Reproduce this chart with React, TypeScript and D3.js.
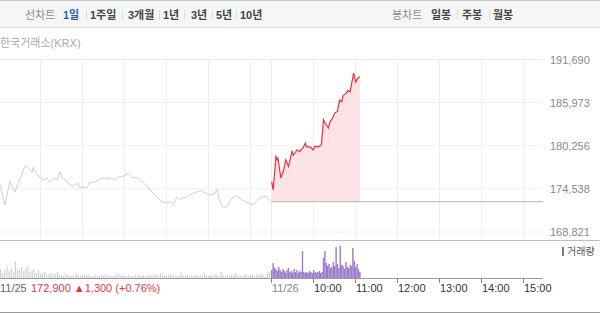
import React from "react";
import * as d3 from "d3";

const yTicks = [191690, 185973, 180256, 174538, 168821];
const prevClose = 172900;

const prevMinutes = [3, 10, 17, 24, 29, 34, 39, 43, 49, 50, 56, 60, 64, 70, 74, 79, 84, 89, 91, 96, 100, 106, 110, 114, 117, 121, 127, 131, 136, 141, 146, 150, 156, 160, 167, 171, 179, 186, 191, 199, 207, 214, 221, 229, 234, 241, 246, 250, 256, 260, 264, 271, 279, 289, 296, 303, 310, 313, 316, 321, 327, 331, 336, 341, 349, 356, 363, 367, 371, 377, 384, 389];
const prevPrices = [175100, 172400, 175600, 174100, 175300, 176400, 177700, 177300, 176800, 177400, 176400, 176100, 175700, 176000, 175400, 176000, 175700, 176800, 176100, 175700, 175300, 174800, 175100, 175300, 174700, 174800, 174700, 175300, 175400, 175600, 175800, 176000, 175800, 176000, 175700, 176100, 176200, 176600, 176100, 176000, 175400, 174800, 174000, 173300, 172800, 172700, 172800, 172400, 173500, 173100, 173300, 173500, 174000, 174300, 174000, 173700, 174000, 174500, 173100, 172100, 172100, 172800, 173500, 173600, 173100, 172700, 172400, 172700, 173100, 173500, 173500, 172900];

const todayMinutes = [391, 393, 396, 397, 399, 400, 404, 408, 411, 415, 420, 422, 427, 431, 436, 439, 441, 446, 450, 453, 458, 462, 465, 467, 472, 474, 478, 481, 485, 488, 491, 493, 497, 500, 503, 508, 511, 514, 517];
const todayPrices = [175500, 174400, 177500, 178800, 178400, 178600, 176000, 177000, 178400, 177500, 179500, 179000, 179700, 179500, 180000, 180600, 180100, 180100, 179700, 180200, 180100, 180400, 183700, 183300, 182600, 183400, 183900, 184600, 184800, 186300, 186100, 186900, 187200, 187600, 187400, 189900, 188700, 189200, 189400];

// volume, prev day every 3 minutes starting 9:00
const prevVolume = [
  6, 9, 5, 8, 12, 7,
  10, 6, 17, 9, 8, 11, 7,
  10, 12, 6, 8, 9, 5, 7,
  4, 5, 6, 3, 4, 5, 3, 4, 6, 3,
  3, 2, 4, 3, 2, 3, 2, 5, 3, 2, 3, 2, 3, 4, 2,
  2, 3, 2, 2, 3, 2, 4, 2, 3, 2, 2, 3, 5, 2, 3, 2, 2, 3, 2,
  2, 3, 2, 4, 2, 3, 2, 2, 3, 2, 4, 3, 2, 5, 3, 2, 2, 3, 4,
  3, 2, 2, 3, 5, 2, 3, 2, 2, 3, 2, 4, 2, 3, 2, 5, 3, 2, 3,
  2, 4, 3, 2, 6, 3, 2, 3, 2, 4, 3, 5, 2, 3, 2, 3, 4, 2, 3,
  3, 2, 4, 3, 5, 3, 2, 4, 6,
];
// today every 2 minutes starting 9:00
const todayVolume = [
  8, 15, 10, 9, 7, 11, 8,
  6, 9, 7, 5, 8, 10, 6, 7, 5, 9, 6, 8, 5, 7,
  6, 27, 6, 5,
  6, 5, 7, 6, 5, 8, 6, 5, 6, 7, 5, 6,
  20, 27, 15, 12, 14, 10, 11, 16, 12, 31, 14, 10,
  32, 13, 12, 9, 16, 11, 10, 13, 12, 30, 17, 11,
  14, 9, 6,
];

const timeTicks = [
  { m: 390, label: "11/26", dim: true },
  { m: 450, label: "10:00", dim: false },
  { m: 510, label: "11:00", dim: false },
  { m: 570, label: "12:00", dim: false },
  { m: 630, label: "13:00", dim: false },
  { m: 690, label: "14:00", dim: false },
  { m: 750, label: "15:00", dim: false },
];

const periodTabs = ["1일", "1주일", "3개월", "1년", "3년", "5년", "10년"];
const candleTabs = ["일봉", "주봉", "월봉"];

const FONT = "'Liberation Sans', 'Noto Sans CJK KR', sans-serif";

export default function App() {
  const W = 600;
  const H = 314;
  const x = d3.scaleLinear().domain([0, 780]).range([-2, 544]);
  const y = d3.scaleLinear().domain([168821, 191690]).range([232, 59.5]);
  const vy = d3.scaleLinear().domain([0, 35]).range([278, 243]);
  const plotRight = 543;

  const prevData = prevMinutes.map((m, i) => [m, prevPrices[i]] as [number, number]);
  const todayData = todayMinutes.map((m, i) => [m, todayPrices[i]] as [number, number]);
  const line = d3.line<[number, number]>().x((d) => x(d[0])).y((d) => y(d[1]));
  const area = d3
    .area<[number, number]>()
    .x((d) => x(d[0]))
    .y0(y(prevClose))
    .y1((d) => y(d[1]));
  const todayArea: [number, number][] = [[390, todayPrices[0]], ...todayData];

  const gridX = d3.range(60, 390, 60).concat(d3.range(390, 780, 60));

  const tabPos = [63, 90, 128, 163, 191, 216, 240];
  const sepPos = [86, 122, 159, 184, 212, 236];
  const candlePos = [431, 462, 493];
  const candleSep = [457, 489];

  return (
    <svg
      width={W}
      height={H}
      style={{ position: "absolute", left: 0, top: 0 }}
      fontFamily={FONT}
    >
      <rect x={0} y={0} width={W} height={H} fill="#fff" />
      {/* header */}
      <rect x={0} y={0} width={W} height={28} fill="#f5f6f8" />
      <line x1={0} x2={W} y1={0.5} y2={0.5} stroke="#c9c9c9" />
      <line x1={0} x2={W} y1={27.5} y2={27.5} stroke="#e2e2e2" />
      <text x={25} y={19} fontSize={11} fill="#8c8c8c">선차트</text>
      {periodTabs.map((t, i) => (
        <text
          key={t}
          x={tabPos[i]}
          y={19}
          fontSize={11}
          fontWeight="bold"
          fill={i === 0 ? "#2f5fb3" : "#444"}
        >
          {t}
        </text>
      ))}
      {sepPos.map((s) => (
        <line key={s} x1={s + 0.5} x2={s + 0.5} y1={10} y2={20} stroke="#dcdcdc" />
      ))}
      <text x={392} y={19} fontSize={11} fill="#8c8c8c">봉차트</text>
      {candleTabs.map((t, i) => (
        <text key={t} x={candlePos[i]} y={19} fontSize={11} fontWeight="bold" fill="#444">
          {t}
        </text>
      ))}
      {candleSep.map((s) => (
        <line key={s} x1={s + 0.5} x2={s + 0.5} y1={10} y2={20} stroke="#dcdcdc" />
      ))}

      <text x={0} y={47} fontSize={11} fill="#aaa">한국거래소(KRX)</text>

      {/* grid */}
      {yTicks.map((t) => (
        <g key={t}>
          <line x1={0} x2={plotRight} y1={y(t)} y2={y(t)} stroke="#eeeeee" />
          <text x={550} y={y(t) + 4} fontSize={11} fill="#888">
            {d3.format(",")(t)}
          </text>
        </g>
      ))}
      {gridX.map((m) => (
        <line key={m} x1={x(m) + 0.5} x2={x(m) + 0.5} y1={59.5} y2={240} stroke="#eeeeee" />
      ))}

      {/* price lines */}
      <path d={line(prevData) || ""} fill="none" stroke="#d0d0d0" strokeWidth={1} />
      <path d={area(todayArea) || ""} fill="#fde3e5" />
      <line
        x1={x(390)}
        x2={plotRight}
        y1={y(prevClose) + 0.5}
        y2={y(prevClose) + 0.5}
        stroke="#b5b5b5"
      />
      <path d={line(todayData) || ""} fill="none" stroke="#e8323a" strokeWidth={1.2} />

      {/* panel separator */}
      <line x1={0} x2={W} y1={240.5} y2={240.5} stroke="#bdbdbd" />

      {/* volume */}
      {prevVolume.map((v, i) => (
        <rect
          key={"p" + i}
          x={x(i * 3)}
          y={vy(v)}
          width={1.1}
          height={vy(0) - vy(v)}
          fill="#cdcdcd"
        />
      ))}
      {todayVolume.map((v, i) => (
        <rect
          key={"t" + i}
          x={x(390 + i * 2)}
          y={vy(v)}
          width={1.4}
          height={vy(0) - vy(v)}
          fill="#9a7cc8"
        />
      ))}
      <line x1={0} x2={plotRight} y1={278.5} y2={278.5} stroke="#9a9a9a" />
      {timeTicks.map((t) => (
        <g key={t.label}>
          <line x1={x(t.m) + 0.5} x2={x(t.m) + 0.5} y1={278} y2={283} stroke="#888" />
          <text x={x(t.m) + 1} y={292} fontSize={11} fill={t.dim ? "#888" : "#333"}>
            {t.label}
          </text>
        </g>
      ))}

      {/* legend */}
      <rect x={562} y={247} width={2} height={9} fill="#8a6cc0" />
      <text x={567} y={255} fontSize={10} fill="#555">거래량</text>

      {/* bottom info */}
      <text x={0} y={292} fontSize={11} fill="#666">11/25</text>
      <text x={31} y={292} fontSize={11} fill="#e4393c">
        172,900 ▲1,300 (+0.76%)
      </text>

      <line x1={0} x2={W} y1={312.5} y2={312.5} stroke="#9a9a9a" />
    </svg>
  );
}
